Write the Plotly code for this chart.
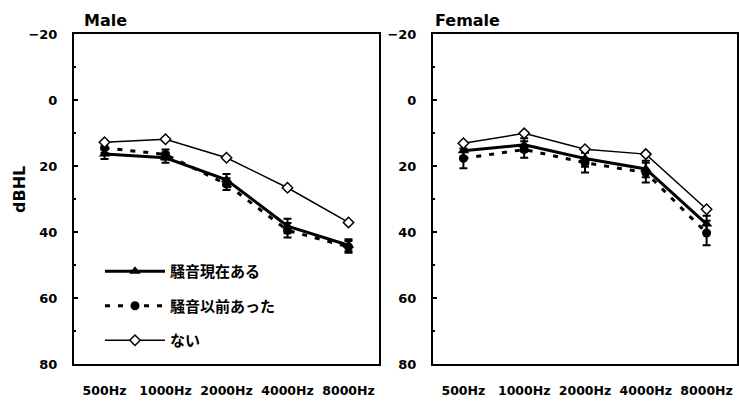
import plotly.graph_objects as go

freqs = ["500Hz", "1000Hz", "2000Hz", "4000Hz", "8000Hz"]
series_names = ["騒音現在ある", "騒音以前あった", "ない"]

male_now = [16.4, 17.5, 24.2, 38.2, 44.0]
male_now_err = [1.5, 1.5, 1.8, 2.2, 1.8]
male_past = [14.5, 16.5, 25.5, 39.5, 44.5]
male_past_err = [1.5, 1.5, 1.8, 2.2, 1.8]
male_none = [12.8, 11.9, 17.5, 26.6, 37.1]

female_now = [15.4, 13.6, 17.7, 20.9, 37.6]
female_now_err = [2.0, 2.0, 2.5, 2.5, 2.5]
female_past = [17.7, 15.0, 19.0, 22.0, 40.3]
female_past_err = [3.0, 2.5, 3.0, 3.0, 3.7]
female_none = [13.1, 10.1, 14.9, 16.4, 33.1]

W, H = 739, 401
BLACK = "#000000"
JP = "Noto Sans CJK JP"
LAT = "DejaVu Sans"

fig = go.Figure()

def add_panel(xa, ya, now, now_err, past, past_err, none, show):
    fig.add_trace(go.Scatter(
        x=freqs, y=now, xaxis=xa, yaxis=ya, name=series_names[0],
        mode="lines+markers", legendgroup="a", showlegend=show,
        line=dict(color=BLACK, width=3),
        marker=dict(symbol="triangle-up", size=10, color=BLACK),
        error_y=dict(type="data", array=now_err, color=BLACK, thickness=2, width=4),
    ))
    fig.add_trace(go.Scatter(
        x=freqs, y=past, xaxis=xa, yaxis=ya, name=series_names[1],
        mode="lines+markers", legendgroup="b", showlegend=show,
        line=dict(color=BLACK, width=3, dash="5px,8px"),
        marker=dict(symbol="circle", size=9, color=BLACK),
        error_y=dict(type="data", array=past_err, color=BLACK, thickness=2, width=4),
    ))
    fig.add_trace(go.Scatter(
        x=freqs, y=none, xaxis=xa, yaxis=ya, name=series_names[2],
        mode="lines+markers", legendgroup="c", showlegend=show,
        line=dict(color=BLACK, width=1.5),
        marker=dict(symbol="diamond", size=8, color="white",
                    line=dict(color=BLACK, width=1.5)),
    ))

add_panel("x", "y", male_now, male_now_err, male_past, male_past_err, male_none, True)
add_panel("x2", "y2", female_now, female_now_err, female_past, female_past_err, female_none, False)

ydom = [(H - 364) / H, (H - 34) / H]
xcommon = dict(type="category", categoryorder="array", categoryarray=freqs,
               range=[-0.5, 4.5], showline=True, mirror=True, linecolor=BLACK,
               linewidth=2, ticks="", showgrid=False, zeroline=False,
               automargin=False,
               tickfont=dict(family=LAT, size=12.5, color=BLACK, weight="bold"),
               ticklabelstandoff=14)
ycommon = dict(range=[80, -20], dtick=20, tick0=0, showline=True, mirror=True,
               linecolor=BLACK, linewidth=2, ticks="inside", ticklen=4,
               tickcolor=BLACK, tickwidth=1.5, showgrid=False, zeroline=False,
               automargin=False,
               minor=dict(dtick=10, ticks="inside", ticklen=2, tickcolor=BLACK),
               tickfont=dict(family=LAT, size=13, color=BLACK, weight="bold"),
               ticklabelstandoff=12, domain=ydom)

fig.update_layout(
    width=W, height=H,
    margin=dict(l=0, r=0, t=0, b=0, autoexpand=False),
    paper_bgcolor="white", plot_bgcolor="white",
    xaxis=dict(xcommon, domain=[74 / W, 379 / W], anchor="y"),
    xaxis2=dict(xcommon, domain=[433 / W, 737 / W], anchor="y2"),
    yaxis=dict(ycommon, anchor="x"),
    yaxis2=dict(ycommon, anchor="x2"),
    showlegend=True,
    legend=dict(x=100 / W, y=1 - 255 / H, xanchor="left", yanchor="top",
                bgcolor="rgba(0,0,0,0)", traceorder="grouped",
                tracegroupgap=12, itemwidth=60,
                font=dict(family=JP, size=15, color=BLACK, weight="bold")),
    annotations=[
        dict(text="Male", x=82 / W, y=1 - 20 / H, xref="paper", yref="paper",
             xanchor="left", yanchor="middle", showarrow=False,
             font=dict(family=LAT, size=16, color=BLACK, weight="bold")),
        dict(text="Female", x=433 / W, y=1 - 20 / H, xref="paper", yref="paper",
             xanchor="left", yanchor="middle", showarrow=False,
             font=dict(family=LAT, size=16, color=BLACK, weight="bold")),
        dict(text="dBHL", x=19 / W, y=1 - 190 / H, xref="paper", yref="paper",
             xanchor="center", yanchor="middle", showarrow=False, textangle=-90,
             font=dict(family=LAT, size=16, color=BLACK, weight="bold")),
    ],
)

fig.write_html("out.html")
